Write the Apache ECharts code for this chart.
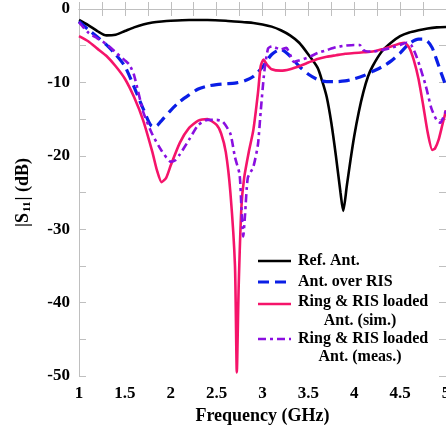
<!DOCTYPE html>
<html>
<head>
<meta charset="utf-8">
<script src="https://cdn.jsdelivr.net/npm/echarts@6/dist/echarts.min.js"></script>
<style>
html,body{margin:0;padding:0;background:#fff;overflow:hidden;}
#chart{width:446px;height:429px;}
</style>
</head>
<body>
<div id="chart"></div>
<script>
// ---- Data ----
const seriesNames = ['Ref. Ant.', 'Ant. over RIS', 'Ring & RIS loaded Ant. (sim.)', 'Ring & RIS loaded Ant. (meas.)'];

const refFreq = [1.0,1.1,1.2,1.3,1.4,1.5,1.6,1.7,1.8,1.9,2.0,2.2,2.4,2.6,2.8,2.9,3.0,3.1,3.2,3.3,3.4,3.5,3.6,3.65,3.7,3.75,3.8,3.85,3.88,3.92,3.96,4.0,4.05,4.1,4.15,4.2,4.3,4.4,4.5,4.6,4.7,4.8,4.9,5.0];
const refS11  = [-1.5,-2.2,-3.0,-3.6,-3.5,-3.0,-2.5,-2.1,-1.85,-1.7,-1.6,-1.5,-1.5,-1.6,-1.8,-1.9,-2.1,-2.4,-2.9,-3.6,-4.6,-6.2,-8.0,-9.8,-12.0,-15.5,-20.0,-25.0,-27.5,-24.0,-20.5,-17.3,-14.0,-11.3,-9.2,-7.8,-5.8,-4.6,-3.7,-3.2,-2.9,-2.65,-2.5,-2.45];

const risFreq = [1.0,1.1,1.2,1.3,1.4,1.5,1.6,1.7,1.8,1.85,1.9,2.0,2.1,2.2,2.3,2.4,2.5,2.6,2.7,2.8,2.9,3.0,3.1,3.2,3.3,3.4,3.5,3.6,3.7,3.8,3.9,4.0,4.1,4.2,4.3,4.4,4.5,4.6,4.7,4.75,4.8,4.85,4.9,4.95,5.0];
const risS11  = [-1.7,-2.8,-3.8,-4.9,-6.2,-7.8,-10.6,-13.6,-16.0,-15.9,-15.2,-13.8,-12.6,-11.7,-10.9,-10.5,-10.3,-10.2,-10.1,-9.8,-9.2,-7.9,-6.2,-5.5,-6.4,-7.8,-8.9,-9.6,-9.9,-9.9,-9.8,-9.5,-9.1,-8.5,-7.9,-7.1,-6.0,-4.7,-4.1,-4.1,-4.4,-5.3,-7.0,-8.8,-10.5];

const simFreq = [1.0,1.1,1.2,1.3,1.4,1.5,1.6,1.7,1.8,1.85,1.9,1.95,2.0,2.1,2.2,2.3,2.4,2.5,2.55,2.6,2.65,2.7,2.72,2.74,2.77,2.8,2.85,2.9,2.95,2.98,3.01,3.05,3.1,3.2,3.3,3.4,3.5,3.6,3.7,3.8,3.9,4.0,4.1,4.2,4.3,4.4,4.5,4.55,4.6,4.65,4.7,4.75,4.8,4.85,4.88,4.92,4.96,5.0];
const simS11  = [-3.7,-4.4,-5.4,-6.4,-7.8,-9.5,-12.0,-15.2,-19.5,-22.0,-23.6,-23.0,-21.3,-18.2,-16.2,-15.2,-15.0,-15.8,-17.0,-19.5,-25.0,-35.0,-49.5,-38.0,-27.0,-23.0,-19.5,-16.5,-11.5,-7.8,-6.9,-7.6,-8.2,-8.4,-8.2,-7.8,-7.3,-6.8,-6.5,-6.3,-6.1,-6.0,-5.9,-5.8,-5.5,-5.1,-4.7,-4.6,-5.3,-7.0,-9.5,-13.0,-16.8,-19.2,-19.0,-17.8,-15.8,-13.8];

const measFreq = [1.0,1.1,1.2,1.3,1.4,1.5,1.55,1.6,1.7,1.8,1.9,2.0,2.05,2.1,2.2,2.3,2.4,2.5,2.57,2.65,2.7,2.75,2.77,2.79,2.81,2.84,2.9,2.95,2.98,3.02,3.06,3.1,3.2,3.26,3.3,3.34,3.4,3.5,3.6,3.7,3.8,3.9,4.0,4.06,4.1,4.15,4.2,4.3,4.4,4.5,4.57,4.62,4.67,4.72,4.78,4.84,4.9,4.94,4.97,5.0];
const measS11  = [-1.8,-3.2,-4.0,-4.8,-5.9,-7.0,-7.6,-9.0,-14.0,-17.1,-19.3,-20.8,-20.6,-19.8,-17.8,-15.8,-15.1,-15.1,-15.4,-17.0,-20.2,-22.5,-27.0,-31.0,-28.0,-23.0,-21.5,-18.5,-14.0,-8.5,-5.4,-5.1,-5.5,-5.3,-6.2,-7.2,-7.0,-6.6,-6.0,-5.6,-5.2,-5.0,-4.9,-4.9,-5.6,-5.8,-5.8,-5.6,-5.3,-4.9,-4.6,-4.9,-6.2,-8.0,-10.5,-13.5,-15.2,-15.5,-14.8,-13.8];

const xTicks = {min: 1, max: 5, step: 0.5};
const yTicks = {min: -50, max: 0, step: 10};

// ---- Styling ----
const serif = '"Liberation Serif", "DejaVu Serif", serif';
const axisGray = '#bfbfbf';
const colors = ['#000000', '#0a1ee6', '#f5146a', '#8a0fe0'];

function pairs(xs, ys) { return xs.map((x, i) => [x, ys[i]]); }

const tickStyle = {inside: true, length: 7, lineStyle: {color: axisGray, width: 1}};
const minorStyle = {show: true, splitNumber: 2, length: 7, lineStyle: {color: axisGray, width: 1}};
const lblStyle = {color: '#000', fontFamily: serif, fontWeight: 'bold', fontSize: 17, margin: 9};

const chart = echarts.init(document.getElementById('chart'), null, {renderer: 'canvas'});

const legendX1 = 258, legendX2 = 291, textX = 298, text2CX = 360;
const legendRows = [
  {y: 261, lines: ['Ref. Ant.'], lineY: 261, color: colors[0], dash: null, width: 2.6},
  {y: 282, lines: ['Ant. over RIS'], lineY: 282, color: colors[1], dash: [11, 6], width: 3.2},
  {y: 302, lines: ['Ring & RIS loaded', 'Ant. (sim.)'], lineY: 304, color: colors[2], dash: null, width: 2.6},
  {y: 338.5, lines: ['Ring & RIS loaded', 'Ant. (meas.)'], lineY: 339, color: colors[3], dash: [8, 4, 3, 4], width: 2.6}
];
const graphics = [];
legendRows.forEach(r => {
  graphics.push({
    type: 'line', shape: {x1: legendX1, y1: r.lineY, x2: legendX2, y2: r.lineY},
    style: {stroke: r.color, lineWidth: r.width, lineDash: r.dash || null}
  });
  graphics.push({
    type: 'text', x: textX, y: r.y,
    style: {text: r.lines[0], fill: '#000', fontFamily: serif, fontWeight: 'bold', fontSize: 16, align: 'left', verticalAlign: 'middle'}
  });
  if (r.lines[1]) {
    graphics.push({
      type: 'text', x: text2CX, y: r.y + 18.5,
      style: {text: r.lines[1], fill: '#000', fontFamily: serif, fontWeight: 'bold', fontSize: 16, align: 'center', verticalAlign: 'middle'}
    });
  }
});

const option = {
  animation: false,
  backgroundColor: '#fff',
  grid: {left: 79, right: 0, top: 9, bottom: 53, containLabel: false, outerBoundsMode: 'none'},
  xAxis: [
    {
      type: 'value', min: xTicks.min, max: xTicks.max, interval: xTicks.step, position: 'bottom',
      axisLine: {show: true, lineStyle: {color: axisGray, width: 1}},
      axisTick: tickStyle, minorTick: minorStyle,
      splitLine: {show: false}, minorSplitLine: {show: false},
      axisLabel: lblStyle,
      name: 'Frequency (GHz)', nameLocation: 'middle', nameGap: 29,
      nameTextStyle: {color: '#000', fontFamily: serif, fontWeight: 'bold', fontSize: 18}
    },
    {
      type: 'value', min: xTicks.min, max: xTicks.max, interval: xTicks.step, position: 'top',
      axisLine: {show: true, lineStyle: {color: axisGray, width: 1}},
      axisTick: tickStyle, minorTick: minorStyle,
      splitLine: {show: false}, axisLabel: {show: false}
    }
  ],
  yAxis: [
    {
      type: 'value', min: yTicks.min, max: yTicks.max, interval: yTicks.step, position: 'left',
      axisLine: {show: true, lineStyle: {color: axisGray, width: 1}},
      axisTick: tickStyle, minorTick: minorStyle,
      splitLine: {show: false}, minorSplitLine: {show: false},
      axisLabel: lblStyle,
      name: '|S{sub|11}| (dB)', nameLocation: 'middle', nameGap: 46, nameRotate: 90,
      nameTextStyle: {
        color: '#000', fontFamily: serif, fontWeight: 'bold', fontSize: 18,
        rich: {sub: {fontFamily: serif, fontWeight: 'bold', fontSize: 11, color: '#000', verticalAlign: 'bottom', padding: [8, 1, 0, 1]}}
      }
    },
    {
      type: 'value', min: yTicks.min, max: yTicks.max, interval: yTicks.step, position: 'right',
      axisLine: {show: true, lineStyle: {color: axisGray, width: 1}},
      axisTick: tickStyle, minorTick: minorStyle,
      splitLine: {show: false}, axisLabel: {show: false}
    }
  ],
  series: [
    {name: seriesNames[0], type: 'line', data: pairs(refFreq, refS11), showSymbol: false, smooth: 0.25,
     lineStyle: {color: colors[0], width: 2.6}},
    {name: seriesNames[1], type: 'line', data: pairs(risFreq, risS11), showSymbol: false, smooth: 0.25,
     lineStyle: {color: colors[1], width: 3.2, type: [11, 6]}},
    {name: seriesNames[2], type: 'line', data: pairs(simFreq, simS11), showSymbol: false, smooth: 0.2,
     lineStyle: {color: colors[2], width: 2.6}},
    {name: seriesNames[3], type: 'line', data: pairs(measFreq, measS11), showSymbol: false, smooth: 0.2,
     lineStyle: {color: colors[3], width: 2.6, type: [8, 4, 3, 4]}}
  ],
  graphic: graphics
};
chart.setOption(option);
</script>
</body>
</html>
